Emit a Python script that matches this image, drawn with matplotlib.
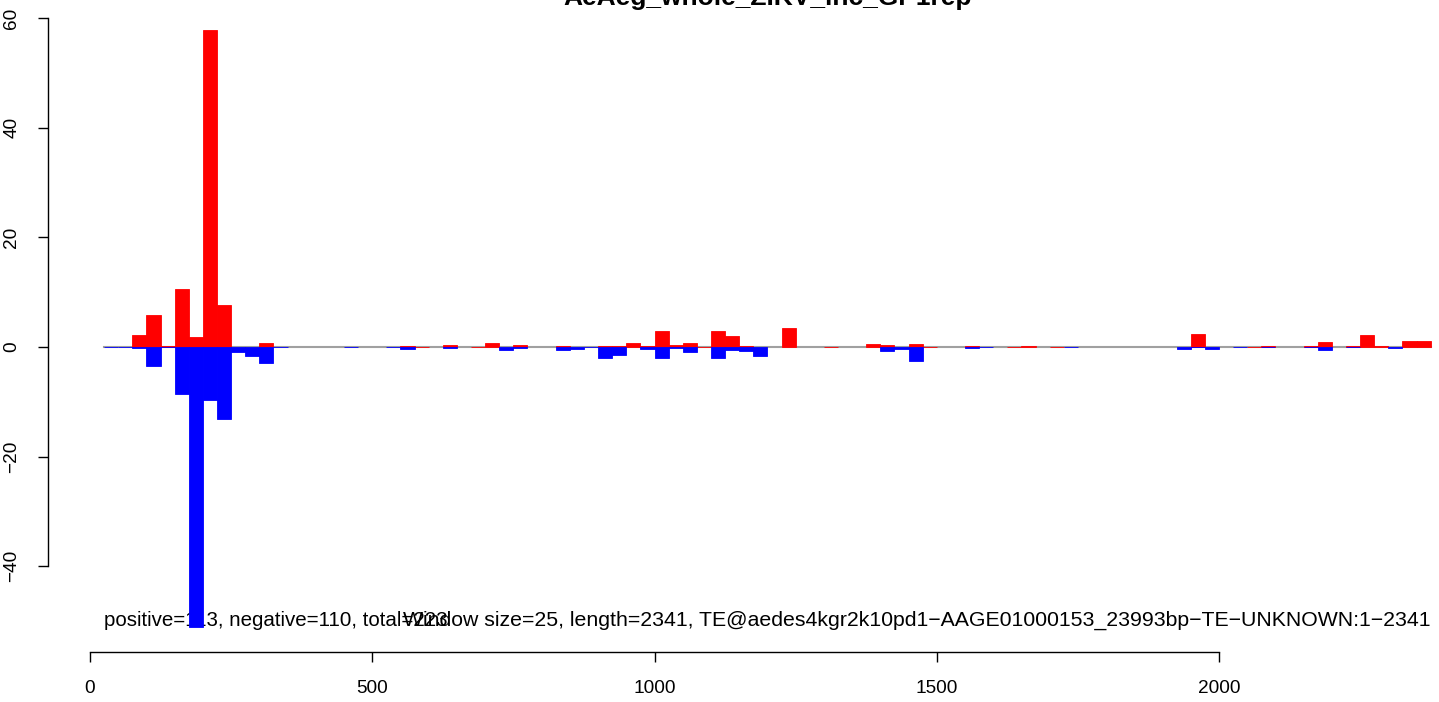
import numpy as np
import matplotlib
matplotlib.use('Agg')
import matplotlib.pyplot as plt

plt.rcParams['font.family'] = ['Liberation Sans', 'DejaVu Sans']

nan = np.nan
title = 'AeAeg_whole_ZIKV_inc_GP1rep'
window = 25
# bin starts 25, 50, ..., 2350
bin_start = [window * i for i in range(1, 95)]

# sense (positive) values per bin, nan = no bar
pos_vals = [nan, nan, 2.2, 5.8, 0.2, 10.6, 1.8, 57.8, 7.7, nan,
            nan, 0.7, nan, nan, nan, nan, nan, nan, nan, nan,
            nan, 0.2, 0.0, nan, 0.35, nan, 0.0, 0.7, nan, 0.35,
            nan, nan, 0.2, nan, nan, 0.2, 0.2, 0.7, 0.2, 2.9,
            0.35, 0.7, 0.0, 2.9, 2.0, 0.2, nan, nan, 3.5, nan,
            nan, 0.0, nan, nan, 0.5, 0.35, nan, 0.5, 0.0, nan,
            nan, 0.2, nan, nan, 0.0, 0.2, nan, 0.0, nan, nan,
            nan, nan, nan, nan, nan, nan, nan, 2.4, nan, nan,
            nan, 0.0, 0.2, nan, nan, 0.2, 0.9, nan, 0.2, 2.2,
            0.2, nan, 1.1, 1.1]

# antisense (negative) values per bin, nan = no bar
neg_vals = [0.0, 0.0, -0.25, -3.4, 0.0, -8.5, -51.0, -9.6, -13.1, -1.0,
            -1.6, -2.9, 0.0, nan, nan, nan, nan, 0.0, nan, nan,
            0.0, -0.4, nan, nan, -0.2, nan, nan, nan, -0.6, -0.2,
            nan, nan, -0.6, -0.4, 0.0, -2.0, -1.5, nan, -0.4, -2.0,
            -0.1, -0.9, nan, -2.0, -0.5, -0.7, -1.6, nan, nan, nan,
            nan, nan, nan, nan, nan, -0.7, -0.3, -2.5, nan, nan,
            nan, -0.1, 0.0, nan, nan, nan, nan, nan, 0.0, nan,
            nan, nan, nan, nan, nan, nan, -0.4, 0.0, -0.4, nan,
            0.0, nan, 0.0, nan, nan, 0.0, -0.5, nan, 0.0, nan,
            nan, -0.2, nan, nan]

left_text = 'positive=113, negative=110, total=223'
right_text = ('Window size=25, length=2341, '
              'TE@aedes4kgr2k10pd1\u2212AAGE01000153_23993bp\u2212TE\u2212UNKNOWN:1\u22122341')

W, H = 1439, 702
fig = plt.figure(figsize=(W / 100, H / 100), dpi=100)
ax = fig.add_axes([48 / W, 50 / H, 1440 / W, 652 / H])

ax.set_xlim(-74.4, 2476.5)
ax.set_ylim(-55.63, 63.29)

x = np.array(bin_start, dtype=float)
pv = np.array(pos_vals)
nv = np.array(neg_vals)

# baseline
ax.plot([x[0], x[-1] + window], [0, 0], color='#a0a0a0', lw=1.5, zorder=1)

m = ~np.isnan(pv)
ax.bar(x[m], pv[m], width=window, align='edge', color='#ff0000',
       edgecolor='#ff0000', linewidth=0.6, zorder=3)
m = ~np.isnan(nv)
ax.bar(x[m], nv[m], width=window, align='edge', color='#0000ff',
       edgecolor='#0000ff', linewidth=0.6, zorder=3)

ax.text(x[0], -49.8, left_text, ha='left', va='center', fontsize=14.8, zorder=2)
ax.text(x[-1] + window, -49.8, right_text, ha='right', va='center', fontsize=15.3, zorder=2)

fig.text(768 / W, 1 - 4.5 / H, title, ha='center', va='baseline',
         fontsize=19, fontweight='bold')

for s in ['top', 'right']:
    ax.spines[s].set_visible(False)
ax.spines['left'].set_bounds(-40, 60)
ax.spines['bottom'].set_bounds(0, 2000)
ax.spines['left'].set_linewidth(1.0)
ax.spines['bottom'].set_linewidth(1.0)

ax.set_xticks([0, 500, 1000, 1500, 2000])
ax.set_yticks([-40, -20, 0, 20, 40, 60])
ax.set_yticklabels(['\u221240', '\u221220', '0', '20', '40', '60'],
                   rotation=90, va='center')
ax.tick_params(axis='both', labelsize=13.7, length=7, width=1.0)
ax.tick_params(axis='x', pad=13)
ax.tick_params(axis='y', pad=13)

fig.savefig('out.png', dpi=100)
